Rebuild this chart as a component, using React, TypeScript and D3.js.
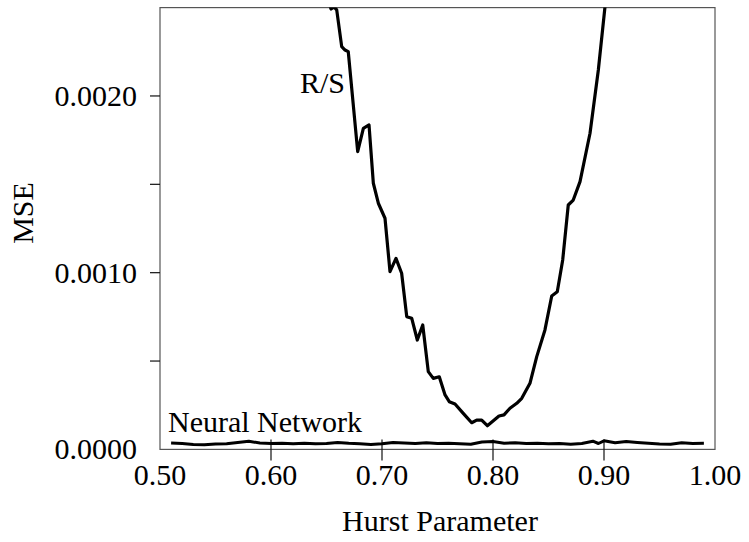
import React, { useRef, useEffect } from "react";
import * as d3 from "d3";

// R/S estimator error
const rsHurst = [
  0.6514, 0.6541, 0.6568, 0.6592, 0.6637, 0.6667, 0.6696, 0.6781, 0.6832, 0.6883,
  0.6922, 0.6967, 0.7027, 0.7072, 0.7126, 0.7177, 0.7223, 0.7268, 0.7318, 0.7367,
  0.7417, 0.7462, 0.7516, 0.7568, 0.7606, 0.7658, 0.7732, 0.7808, 0.7853, 0.7898,
  0.7949, 0.8003, 0.8054, 0.8099, 0.8153, 0.8214, 0.8259, 0.8333, 0.8394, 0.8468,
  0.8529, 0.8579, 0.8628, 0.8678, 0.8723, 0.8784, 0.8874, 0.8949, 0.9009, 0.9036,
];
const rsMse = [
  0.002543, 0.002492, 0.002504, 0.002487, 0.002279, 0.00226, 0.002251, 0.001685, 0.001817, 0.001836,
  0.001506, 0.001393, 0.001308, 0.001006, 0.001081, 0.000997, 0.000751, 0.000742, 0.000619, 0.000704,
  0.00044, 0.000402, 0.000411, 0.000308, 0.00027, 0.000257, 0.000204, 0.000151, 0.000166, 0.000166,
  0.000134, 0.000162, 0.000189, 0.000195, 0.000233, 0.000261, 0.000289, 0.000374, 0.000525, 0.000676,
  0.000868, 0.000892, 0.001072, 0.001383, 0.001411, 0.001515, 0.001789, 0.002147, 0.002505, 0.002657,
];

// neural network estimator error
const nnHurst = [
  0.51, 0.52, 0.53, 0.54, 0.55, 0.56, 0.57, 0.58, 0.59, 0.6,
  0.61, 0.62, 0.63, 0.64, 0.65, 0.66, 0.67, 0.68, 0.69, 0.7,
  0.71, 0.72, 0.73, 0.74, 0.75, 0.76, 0.77, 0.78, 0.79, 0.8,
  0.81, 0.82, 0.83, 0.84, 0.85, 0.86, 0.87, 0.88, 0.89, 0.895,
  0.9, 0.91, 0.92, 0.93, 0.94, 0.95, 0.96, 0.97, 0.98, 0.99,
];
const nnMse = [
  0.0000362, 0.0000334, 0.0000277, 0.000026, 0.0000306, 0.0000317, 0.0000391, 0.0000458, 0.0000362, 0.0000334,
  0.0000345, 0.0000317, 0.0000351, 0.0000317, 0.0000334, 0.0000391, 0.0000345, 0.0000317, 0.0000277, 0.0000317,
  0.0000391, 0.0000362, 0.0000334, 0.0000374, 0.0000334, 0.0000345, 0.0000317, 0.0000294, 0.0000419, 0.0000447,
  0.0000351, 0.0000374, 0.0000334, 0.0000351, 0.0000317, 0.0000334, 0.0000289, 0.0000334, 0.0000464, 0.0000334,
  0.0000487, 0.0000374, 0.0000447, 0.0000391, 0.0000345, 0.0000306, 0.0000289, 0.0000374, 0.0000334, 0.0000345,
];

const xTicks = [0.5, 0.6, 0.7, 0.8, 0.9, 1.0];
const xTickLabels = ["0.50", "0.60", "0.70", "0.80", "0.90", "1.00"];
const yTicks = [0, 0.0005, 0.001, 0.0015, 0.002];
const yTickLabels = ["0.0000", "", "0.0010", "", "0.0020"];

const FONT = "'Liberation Serif', 'Times New Roman', serif";

const App = () => {
  const svgRef = useRef<SVGSVGElement | null>(null);
  const width = 749;
  const height = 542;
  const plot = { left: 160, right: 715, top: 7.6, bottom: 449.4 };

  useEffect(() => {
    const svg = d3.select(svgRef.current);

    const x = d3.scaleLinear().domain([0.5, 1.0]).range([plot.left, plot.right]);
    const y = d3.scaleLinear().domain([0, 0.0025]).range([plot.bottom, plot.top]);

    svg
      .append("clipPath")
      .attr("id", "plot-clip")
      .append("rect")
      .attr("x", plot.left)
      .attr("y", plot.top)
      .attr("width", plot.right - plot.left)
      .attr("height", plot.bottom - plot.top);

    // frame
    svg
      .append("rect")
      .attr("x", plot.left)
      .attr("y", plot.top)
      .attr("width", plot.right - plot.left)
      .attr("height", plot.bottom - plot.top)
      .attr("fill", "none")
      .attr("stroke", "#555")
      .attr("stroke-width", 1.2);

    // x ticks cross the bottom edge
    xTicks.slice(1, -1).forEach((t) => {
      svg
        .append("line")
        .attr("x1", x(t))
        .attr("x2", x(t))
        .attr("y1", plot.bottom - 10)
        .attr("y2", plot.bottom + 11)
        .attr("stroke", "#111")
        .attr("stroke-width", 1.2);
    });
    xTicks.forEach((t, i) => {
      svg
        .append("text")
        .attr("x", x(t))
        .attr("y", 485)
        .attr("text-anchor", "middle")
        .style("font-family", FONT)
        .style("font-size", "30px")
        .text(xTickLabels[i]);
    });

    // y ticks outward only
    yTicks.slice(1).forEach((t) => {
      svg
        .append("line")
        .attr("x1", plot.left - 10)
        .attr("x2", plot.left)
        .attr("y1", y(t))
        .attr("y2", y(t))
        .attr("stroke", "#111")
        .attr("stroke-width", 1.2);
    });
    yTicks.forEach((t, i) => {
      if (!yTickLabels[i]) return;
      svg
        .append("text")
        .attr("x", 137)
        .attr("y", y(t) + 10)
        .attr("text-anchor", "end")
        .style("font-family", FONT)
        .style("font-size", "30px")
        .text(yTickLabels[i]);
    });

    // axis titles
    svg
      .append("text")
      .attr("transform", "translate(33, 213) rotate(-90)")
      .attr("text-anchor", "middle")
      .style("font-family", FONT)
      .style("font-size", "30px")
      .text("MSE");
    svg
      .append("text")
      .attr("x", 440)
      .attr("y", 531)
      .attr("text-anchor", "middle")
      .style("font-family", FONT)
      .style("font-size", "30px")
      .text("Hurst Parameter");

    const curve = d3
      .line<[number, number]>()
      .x((d) => x(d[0]))
      .y((d) => y(d[1]));

    svg
      .append("path")
      .datum(rsHurst.map((h, i) => [h, rsMse[i]] as [number, number]))
      .attr("clip-path", "url(#plot-clip)")
      .attr("fill", "none")
      .attr("stroke", "#000")
      .attr("stroke-width", 3.2)
      .attr("stroke-linejoin", "round")
      .attr("d", curve);

    svg
      .append("path")
      .datum(nnHurst.map((h, i) => [h, nnMse[i]] as [number, number]))
      .attr("fill", "none")
      .attr("stroke", "#000")
      .attr("stroke-width", 3)
      .attr("stroke-linejoin", "round")
      .attr("d", curve);

    // series labels
    svg
      .append("text")
      .attr("x", 300)
      .attr("y", 93)
      .style("font-family", FONT)
      .style("font-size", "30px")
      .text("R/S");
    svg
      .append("text")
      .attr("x", 168)
      .attr("y", 432)
      .style("font-family", FONT)
      .style("font-size", "30px")
      .text("Neural Network");

    return () => {
      svg.selectAll("*").remove();
    };
  }, []);

  return (
    <svg
      ref={svgRef}
      width={width}
      height={height}
      style={{ position: "absolute", left: 0, top: 0, background: "#fff" }}
    ></svg>
  );
};

export default App;
